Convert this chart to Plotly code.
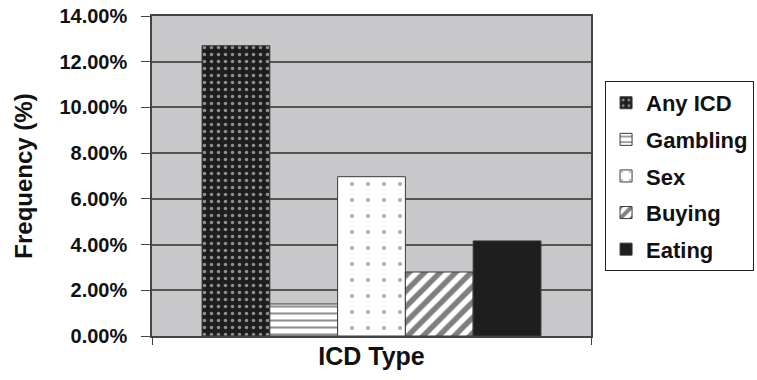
import plotly.graph_objects as go

categories = ["ICD Type"]
series_names = ["Any ICD", "Gambling", "Sex", "Buying", "Eating"]
values = [0.127, 0.014, 0.0697, 0.028, 0.0416]
y_ticks = [0, 0.02, 0.04, 0.06, 0.08, 0.10, 0.12, 0.14]

styles = {
    "Any ICD": dict(color="#1e1e1e", pattern=dict(shape=".", fgcolor="#ffffff", bgcolor="#1e1e1e", size=7, solidity=0.2, fillmode="overlay")),
    "Gambling": dict(color="#ffffff", pattern=dict(shape="-", fgcolor="#222222", bgcolor="#ffffff", size=7, solidity=0.3, fillmode="overlay")),
    "Sex": dict(color="#ffffff", pattern=dict(shape=".", fgcolor="#555555", bgcolor="#ffffff", size=16, solidity=0.05, fillmode="overlay")),
    "Buying": dict(color="#ffffff", pattern=dict(shape="/", fgcolor="#000000", bgcolor="#ffffff", size=11, solidity=0.5, fillmode="overlay")),
    "Eating": dict(color="#1e1e1e", pattern=dict(shape="")),
}

font_family = "Liberation Sans, Arial, sans-serif"
ink = "#111111"

fig = go.Figure()
for name, v in zip(series_names, values):
    st = styles[name]
    fig.add_trace(go.Bar(
        x=categories, y=[v], name=name,
        legendgroup=name,
        marker=dict(color=st["color"], pattern=st["pattern"],
                    line=dict(color="#3a3a3a", width=1)),
    ))

fig.update_layout(
    width=757, height=380,
    margin=dict(l=152, r=166, t=16, b=44, autoexpand=False),
    paper_bgcolor="white",
    plot_bgcolor="#c8c8ca",
    barmode="group",
    bargap=0.228, bargroupgap=0,
    font=dict(family=font_family, color=ink),
    showlegend=True,
    legend=dict(
        x=1.032, y=0.797, xanchor="left", yanchor="top",
        bordercolor="#222222", borderwidth=1,
        bgcolor="white",
        font=dict(size=22, weight="bold", family=font_family, color=ink),
        tracegroupgap=5,
        itemwidth=30,
    ),
    xaxis=dict(
        type="category",
        automargin=False,
        showticklabels=False,
        ticks="outside", ticklen=7, tickcolor="#444444", tickwidth=1,
        tickson="boundaries",
        showline=True, linecolor="#444444", linewidth=1.5, mirror=True,
        title=dict(text="ICD Type", font=dict(size=25, weight="bold", family=font_family, color=ink), standoff=11),
    ),
    yaxis=dict(
        automargin=False,
        range=[0, 0.14],
        tickvals=y_ticks,
        tickformat=".2%",
        ticks="outside", ticklen=9, tickcolor="#444444", tickwidth=1,
        ticklabelstandoff=10,
        ticklabeloverflow="allow",
        tickfont=dict(size=20, weight="bold", family=font_family, color=ink),
        showgrid=True, gridcolor="#555555", gridwidth=1.5,
        showline=True, linecolor="#444444", linewidth=1.5, mirror=True,
        zeroline=False,
        title=dict(text="Frequency (%)", font=dict(size=24, weight="bold", family=font_family, color=ink), standoff=20),
    ),
)

fig.write_html("out.html", config={"displayModeBar": False},
               post_script="document.body.style.margin='0';")
